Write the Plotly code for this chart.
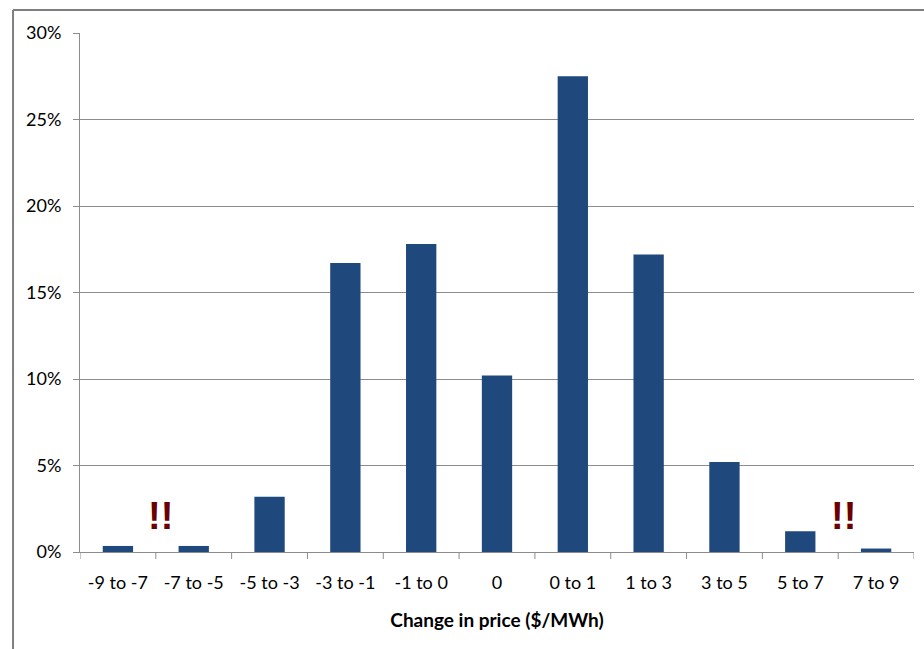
import plotly.graph_objects as go

categories = ["-9 to -7", "-7 to -5", "-5 to -3", "-3 to -1", "-1 to 0", "0",
              "0 to 1", "1 to 3", "3 to 5", "5 to 7", "7 to 9"]
shares = [0.0035, 0.0035, 0.032, 0.167, 0.178, 0.102, 0.275, 0.172, 0.052, 0.012, 0.002]
y_ticks = [0, 0.05, 0.10, 0.15, 0.20, 0.25, 0.30]
y_tick_labels = ["0%", "5%", "10%", "15%", "20%", "25%", "30%"]
flag_positions = [0.5, 9.5]
flag_level = 0.021

FONT = "Lato, 'Open Sans', sans-serif"
GRID = "#8c8c8c"

fig = go.Figure(go.Bar(
    x=list(range(len(categories))),
    y=shares,
    marker=dict(color="#1F497D", line=dict(width=0)),
    width=0.4,
))

for xp in flag_positions:
    fig.add_annotation(x=xp, y=flag_level, text="<b>!!</b>", showarrow=False, xshift=5,
                       font=dict(family="'Liberation Sans', Arial, sans-serif", size=38, color="#6B0000"),
                       yanchor="middle")

# outer chart frame (left and top edges)
fig.add_shape(type="line", xref="paper", yref="paper", x0=-0.0803, x1=-0.0803, y0=1.0443, y1=-0.3,
              line=dict(color="#7f7f7f", width=2))
fig.add_shape(type="line", xref="paper", yref="paper", x0=-0.0803, x1=1.02, y0=1.0443, y1=1.0443,
              line=dict(color="#7f7f7f", width=2))

fig.update_layout(
    width=924, height=649,
    margin=dict(l=80, r=10, t=33, b=97),
    paper_bgcolor="white", plot_bgcolor="white",
    showlegend=False,
    font=dict(family=FONT, size=18, color="#000000"),
    xaxis=dict(
        tickmode="array", tickvals=list(range(len(categories))), ticktext=categories,
        range=[-0.5, len(categories) - 0.5],
        showline=True, linecolor=GRID, linewidth=1,
        ticks="", showgrid=False, zeroline=False,
        ticklabelstandoff=14,
        tickfont=dict(family=FONT, size=18),
        title=dict(text="<b>Change in price ($/MWh)</b>", font=dict(family=FONT, size=19), standoff=22),
    ),
    yaxis=dict(
        range=[0, 0.30], tickvals=y_ticks, ticktext=y_tick_labels,
        showgrid=True, gridcolor=GRID, gridwidth=1,
        showline=True, linecolor=GRID, linewidth=1,
        ticks="outside", ticklen=6, tickcolor=GRID,
        zeroline=False, ticklabelstandoff=8,
        tickfont=dict(family=FONT, size=18),
    ),
)

# x-axis tick marks on category boundaries
for b in range(len(categories) + 1):
    fig.add_shape(type="line", xref="x", yref="paper", x0=b - 0.5, x1=b - 0.5, y0=0, y1=-0.0135,
                  line=dict(color=GRID, width=1))

fig.write_html("out.html")
